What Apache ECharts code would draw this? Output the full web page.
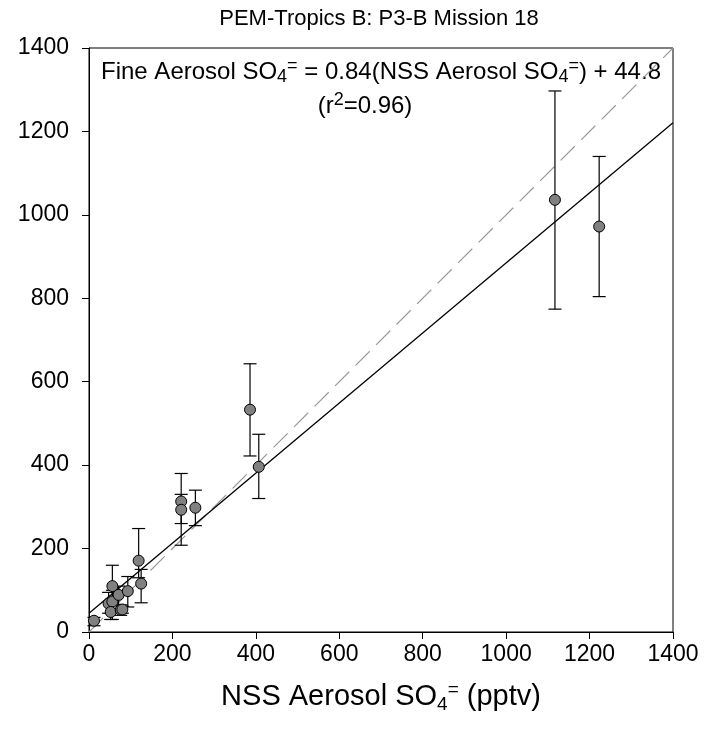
<!DOCTYPE html>
<html>
<head>
<meta charset="utf-8">
<script src="https://cdn.jsdelivr.net/npm/echarts@6/dist/echarts.min.js"></script>
<style>html,body{margin:0;padding:0;background:#fff}#c{width:717px;height:735px}</style>
</head>
<body>
<div id="c"></div>
<script>
// NSS aerosol SO4= (x), fine aerosol SO4= (y), error bar low/high
const nssX  = [12, 47, 56, 56, 52, 71, 76, 80, 93, 119, 125, 221, 221, 255, 386, 407, 1117, 1223];
const fineY = [27, 68, 110, 73, 48, 89, 53, 54, 98, 171, 116, 313, 293, 298, 533, 396, 1036, 972];
const errLow  = [15, 45, 75, 30, 30, 55, 40, 45, 60, 130, 70, 260, 208, 255, 422, 320, 774, 804];
const errHigh = [35, 95, 160, 100, 70, 110, 65, 62, 133, 248, 150, 380, 330, 340, 643, 474, 1297, 1140];
const fitLine = [[0, 44.8], [1400, 1220.8]];
const oneToOne = [[0, 0], [1400, 1400]];
const axisTicks = [0, 200, 400, 600, 800, 1000, 1200, 1400];

const points = nssX.map((x, i) => [x, fineY[i]]);
const bars = nssX.map((x, i) => [x, errLow[i], errHigh[i]]);

const chart = echarts.init(document.getElementById('c'), null, {renderer: 'canvas'});
const FONT = 'Liberation Sans, Arial, sans-serif';
const axisCommon = {
  min: axisTicks[0], max: axisTicks[axisTicks.length - 1], interval: 200,
  axisLine: {show: true, lineStyle: {color: '#000', width: 1}},
  axisTick: {show: true, inside: false, length: 7, lineStyle: {color: '#000'}},
  splitLine: {show: false},
};
const plain = v => String(v);
chart.setOption({
  animation: false,
  backgroundColor: '#fff',
  grid: {left: 89, right: 44, top: 48, bottom: 103, show: true, borderColor: '#000', borderWidth: 1, backgroundColor: 'transparent'},
  xAxis: Object.assign({}, axisCommon, {
    type: 'value',
    axisLabel: {color: '#000', fontSize: 23, fontFamily: FONT, margin: 11, formatter: plain},
    name: '{n|NSS Aerosol SO}{sub|4}{sup|=}{n| (pptv)}',
    nameLocation: 'middle', nameGap: 47,
    nameTextStyle: {
      rich: {
        n: {fontSize: 29, fontFamily: FONT, color: '#000'},
        sub: {fontSize: 19, fontFamily: FONT, color: '#000', padding: [16, 0, 0, 0]},
        sup: {fontSize: 19, fontFamily: FONT, color: '#000', padding: [0, 0, 14, 0]}
      }
    }
  }),
  yAxis: Object.assign({}, axisCommon, {
    type: 'value',
    axisLabel: {color: '#000', fontSize: 23, fontFamily: FONT, margin: 20, formatter: plain}
  }),
  graphic: [
    {type: 'text', x: 379, y: 19, style: {text: 'PEM-Tropics B: P3-B Mission 18', fill: '#000', font: '22px ' + FONT, align: 'center', verticalAlign: 'middle'}},
    {type: 'text', x: 381, y: 72, style: {
      text: '{n|Fine Aerosol SO}{sub|4}{sup|=}{n| = 0.84(NSS Aerosol SO}{sub|4}{sup|=}{n|) + 44.8}',
      align: 'center', verticalAlign: 'middle',
      rich: {
        n: {fontSize: 24, fontFamily: FONT, fill: '#000', color: '#000'},
        sub: {fontSize: 18, fontFamily: FONT, fill: '#000', color: '#000', padding: [11, 0, 0, 0]},
        sup: {fontSize: 18, fontFamily: FONT, fill: '#000', color: '#000', padding: [0, 0, 11, 0]}
      }
    }},
    {type: 'text', x: 365, y: 106, style: {
      text: '{n|(r}{sup|2}{n|=0.96)}',
      align: 'center', verticalAlign: 'middle',
      rich: {
        n: {fontSize: 24, fontFamily: FONT, fill: '#000', color: '#000'},
        sup: {fontSize: 18, fontFamily: FONT, fill: '#000', color: '#000', padding: [0, 0, 11, 0]}
      }
    }}
  ],
  series: [
    {type: 'line', data: oneToOne, symbol: 'none', lineStyle: {color: '#999', width: 1.2, type: [20, 9]}, z: 1},
    {type: 'line', data: fitLine, symbol: 'none', lineStyle: {color: '#000', width: 1.3}, z: 2},
    {
      type: 'custom', data: bars, z: 3,
      renderItem: function (params, api) {
        const x = api.value(0);
        const lo = api.coord([x, api.value(1)]);
        const hi = api.coord([x, api.value(2)]);
        const w = 6.5;
        const st = {stroke: '#000', lineWidth: 1.2};
        return {type: 'group', children: [
          {type: 'line', shape: {x1: lo[0], y1: lo[1], x2: hi[0], y2: hi[1]}, style: st},
          {type: 'line', shape: {x1: lo[0] - w, y1: lo[1], x2: lo[0] + w, y2: lo[1]}, style: st},
          {type: 'line', shape: {x1: hi[0] - w, y1: hi[1], x2: hi[0] + w, y2: hi[1]}, style: st}
        ]};
      }
    },
    {type: 'scatter', data: points, symbol: 'circle', symbolSize: 11, z: 4,
      itemStyle: {color: '#808080', borderColor: '#000', borderWidth: 1, opacity: 1}}
  ]
});
</script>
</body>
</html>
